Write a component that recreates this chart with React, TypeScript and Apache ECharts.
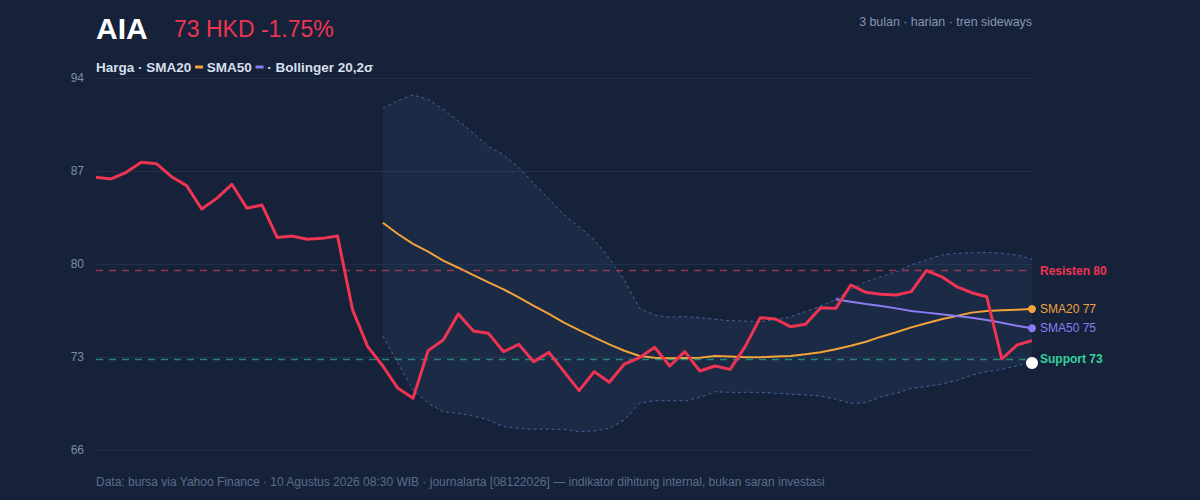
import { useEffect, useRef } from 'react';
import * as echarts from 'echarts';

// 63 hari perdagangan (3 bulan, harian)
const hari = Array.from({ length: 63 }, (_, i) => `H${i + 1}`);

const harga = [
  86.53, 86.4, 86.9, 87.65, 87.55, 86.57, 85.9, 84.14, 84.94, 86.0,
  84.2, 84.44, 82.0, 82.1, 81.86, 81.93, 82.1, 76.54, 73.78, 72.32,
  70.64, 69.89, 73.48, 74.28, 76.24, 74.96, 74.78, 73.4, 73.95, 72.65,
  73.35, 71.9, 70.47, 71.9, 71.1, 72.47, 72.95, 73.73, 72.32, 73.4,
  71.95, 72.32, 72.07, 73.78, 75.96, 75.86, 75.28, 75.46, 76.71, 76.66,
  78.42, 77.87, 77.72, 77.67, 77.92, 79.5, 79.05, 78.3, 77.84, 77.54,
  72.85, 73.9, 74.23,
];

// mulai hari ke-20
const sma20 = [
  83.11, 82.26, 81.51, 80.93, 80.25, 79.72, 79.17, 78.62, 78.09, 77.49,
  76.84, 76.24, 75.58, 75.03, 74.48, 73.95, 73.47, 73.08, 72.95, 72.9,
  72.93, 72.95, 73.08, 73.03, 72.98, 72.98, 73.03, 73.08, 73.2, 73.35,
  73.58, 73.85, 74.15, 74.53, 74.86, 75.23, 75.54, 75.84, 76.09, 76.34,
  76.46, 76.51, 76.56, 76.61,
];
const bbAtas = [
  91.72, 92.29, 92.72, 92.39, 91.64, 90.79, 89.84, 88.83, 88.2, 87.28,
  86.07, 84.89, 83.69, 82.81, 81.81, 80.43, 78.8, 76.66, 76.16, 75.99,
  76.04, 75.96, 75.84, 75.73, 75.71, 75.66, 75.78, 76.04, 76.41, 76.84,
  77.34, 78.1, 78.67, 79.04, 79.42, 79.93, 80.3, 80.68, 80.8, 80.85,
  80.88, 80.8, 80.68, 80.35,
];
const bbBawah = [
  74.58, 72.53, 70.52, 69.52, 68.88, 68.76, 68.56, 68.26, 67.75, 67.63,
  67.56, 67.56, 67.56, 67.38, 67.43, 67.63, 68.26, 69.52, 69.71, 69.71,
  69.71, 69.95, 70.39, 70.34, 70.34, 70.34, 70.27, 70.21, 70.14, 70.06,
  69.82, 69.51, 69.56, 70.01, 70.27, 70.64, 70.77, 70.97, 71.22, 71.64,
  71.9, 72.07, 72.32, 72.72,
];
// mulai hari ke-50
const sma50 = [
  77.34, 77.16, 76.99, 76.84, 76.66, 76.46, 76.34, 76.21, 76.09, 75.96,
  75.79, 75.58, 75.36, 75.16,
];

const resisten = 79.5;
const support = 72.85;
const titikAkhir = 72.55;
const sumbuY = { min: 66, max: 94, step: 7 };

const FONT = '"Liberation Sans", Arial, Helvetica, sans-serif';
const C = {
  bg: '#16223a',
  harga: '#ee3452',
  sma20: '#f2a43a',
  sma50: '#8b7cf6',
  band: '#46639a',
  support: '#34d399',
  grid: '#212f4a',
  muted: '#8696b2',
};

const pad = (arr: number[], start: number) =>
  hari.map((_, i) => (i < start ? '-' : arr[i - start]));

export default function App() {
  const ref = useRef<HTMLDivElement>(null);

  useEffect(() => {
    document.body.style.margin = '0';
    if (!ref.current) return;
    const chart = echarts.init(ref.current, undefined, { renderer: 'svg' });
    const last = hari[hari.length - 1];
    const s20 = sma20[sma20.length - 1];
    const s50 = sma50[sma50.length - 1];

    const option = {
      animation: false,
      backgroundColor: C.bg,
      textStyle: { fontFamily: FONT },
      grid: { left: 96, right: 168, top: 78, bottom: 50 },
      xAxis: {
        type: 'category',
        data: hari,
        boundaryGap: false,
        show: false,
      },
      yAxis: {
        type: 'value',
        min: sumbuY.min,
        max: sumbuY.max,
        interval: sumbuY.step,
        axisLine: { show: false },
        axisTick: { show: false },
        axisLabel: { color: '#7d8ca6', fontSize: 12, margin: 12, fontFamily: FONT },
        splitLine: { lineStyle: { color: C.grid, width: 1 } },
      },
      graphic: [
        {
          type: 'text', x: 96, y: 28,
          style: { text: 'AIA', fill: '#ffffff', fontSize: 30, fontWeight: 'bold', fontFamily: FONT, verticalAlign: 'middle' },
        },
        {
          type: 'text', x: 174, y: 29,
          style: { text: '73 HKD -1.75%', fill: C.harga, fontSize: 23, fontFamily: FONT, verticalAlign: 'middle' },
        },
        {
          type: 'text', x: 1032, y: 22,
          style: { text: '3 bulan · harian · tren sideways', fill: C.muted, fontSize: 12.4, fontFamily: FONT, align: 'right', verticalAlign: 'middle' },
        },
        {
          type: 'text', x: 96, y: 67,
          style: {
            text: 'Harga · SMA20 {o|\u00a0} SMA50 {p|\u00a0} · Bollinger 20,2σ',
            fill: '#d6dfeb', fontSize: 13.5, fontWeight: 'bold', fontFamily: FONT, verticalAlign: 'middle',
            rich: {
              o: { width: 8, height: 3, backgroundColor: C.sma20 },
              p: { width: 8, height: 3, backgroundColor: C.sma50 },
            },
          },
        },
        {
          type: 'text', x: 96, y: 482,
          style: {
            text: 'Data: bursa via Yahoo Finance · 10 Agustus 2026 08:30 WIB · journalarta [08122026] — indikator dihitung internal, bukan saran investasi',
            fill: '#5b6c8b', fontSize: 12, fontFamily: FONT, verticalAlign: 'middle',
          },
        },
      ],
      series: [
        {
          name: 'BB bawah',
          type: 'line',
          data: pad(bbBawah, 19),
          stack: 'bb',
          symbol: 'none',
          z: 1,
          lineStyle: { color: C.band, width: 1, type: [3, 3] },
        },
        {
          name: 'BB atas',
          type: 'line',
          data: pad(bbAtas.map((v, i) => +(v - bbBawah[i]).toFixed(2)), 19),
          stack: 'bb',
          symbol: 'none',
          z: 1,
          lineStyle: { color: C.band, width: 1, type: [3, 3] },
          areaStyle: { color: 'rgba(62,92,145,0.2)' },
        },
        {
          name: 'SMA20',
          type: 'line',
          data: pad(sma20, 19),
          symbol: 'none',
          z: 3,
          lineStyle: { color: C.sma20, width: 2 },
          endLabel: {
            show: true,
            formatter: `SMA20 ${Math.round(s20)}`,
            color: C.sma20,
            fontSize: 12,
            fontFamily: FONT,
            distance: 8,
          },
        },
        {
          name: 'SMA50',
          type: 'line',
          data: pad(sma50, 49),
          symbol: 'none',
          z: 3,
          lineStyle: { color: C.sma50, width: 2 },
          endLabel: {
            show: true,
            formatter: `SMA50 ${Math.round(s50)}`,
            color: C.sma50,
            fontSize: 12,
            fontFamily: FONT,
            distance: 8,
          },
        },
        {
          name: 'Harga',
          type: 'line',
          data: harga,
          symbol: 'none',
          z: 5,
          lineStyle: { color: C.harga, width: 3, join: 'round' },
          markLine: {
            silent: true,
            symbol: 'none',
            data: [
              {
                yAxis: resisten,
                lineStyle: { color: 'rgba(232,70,100,0.6)', width: 1.3, type: [7, 6] },
                label: {
                  position: 'end', distance: 8, formatter: `Resisten ${Math.round(resisten)}`,
                  color: C.harga, fontSize: 12, fontWeight: 'bold', fontFamily: FONT,
                },
              },
              {
                yAxis: support,
                lineStyle: { color: 'rgba(45,200,150,0.6)', width: 1.3, type: [7, 6] },
                label: {
                  position: 'end', distance: 8, formatter: `Support ${Math.round(support)}`,
                  color: C.support, fontSize: 12, fontWeight: 'bold', fontFamily: FONT,
                },
              },
            ],
          },
        },
        {
          type: 'scatter',
          z: 6,
          symbolSize: 8,
          data: [
            { value: [last, s20], itemStyle: { color: C.sma20, opacity: 1 } },
            { value: [last, s50], itemStyle: { color: C.sma50, opacity: 1 } },
            { value: [last, titikAkhir], symbolSize: 12, itemStyle: { color: '#ffffff', opacity: 1 } },
          ],
        },
      ],
    };

    chart.setOption(option);
    return () => {
      chart.dispose();
    };
  }, []);

  return <div ref={ref} style={{ width: 1200, height: 500 }} />;
}
